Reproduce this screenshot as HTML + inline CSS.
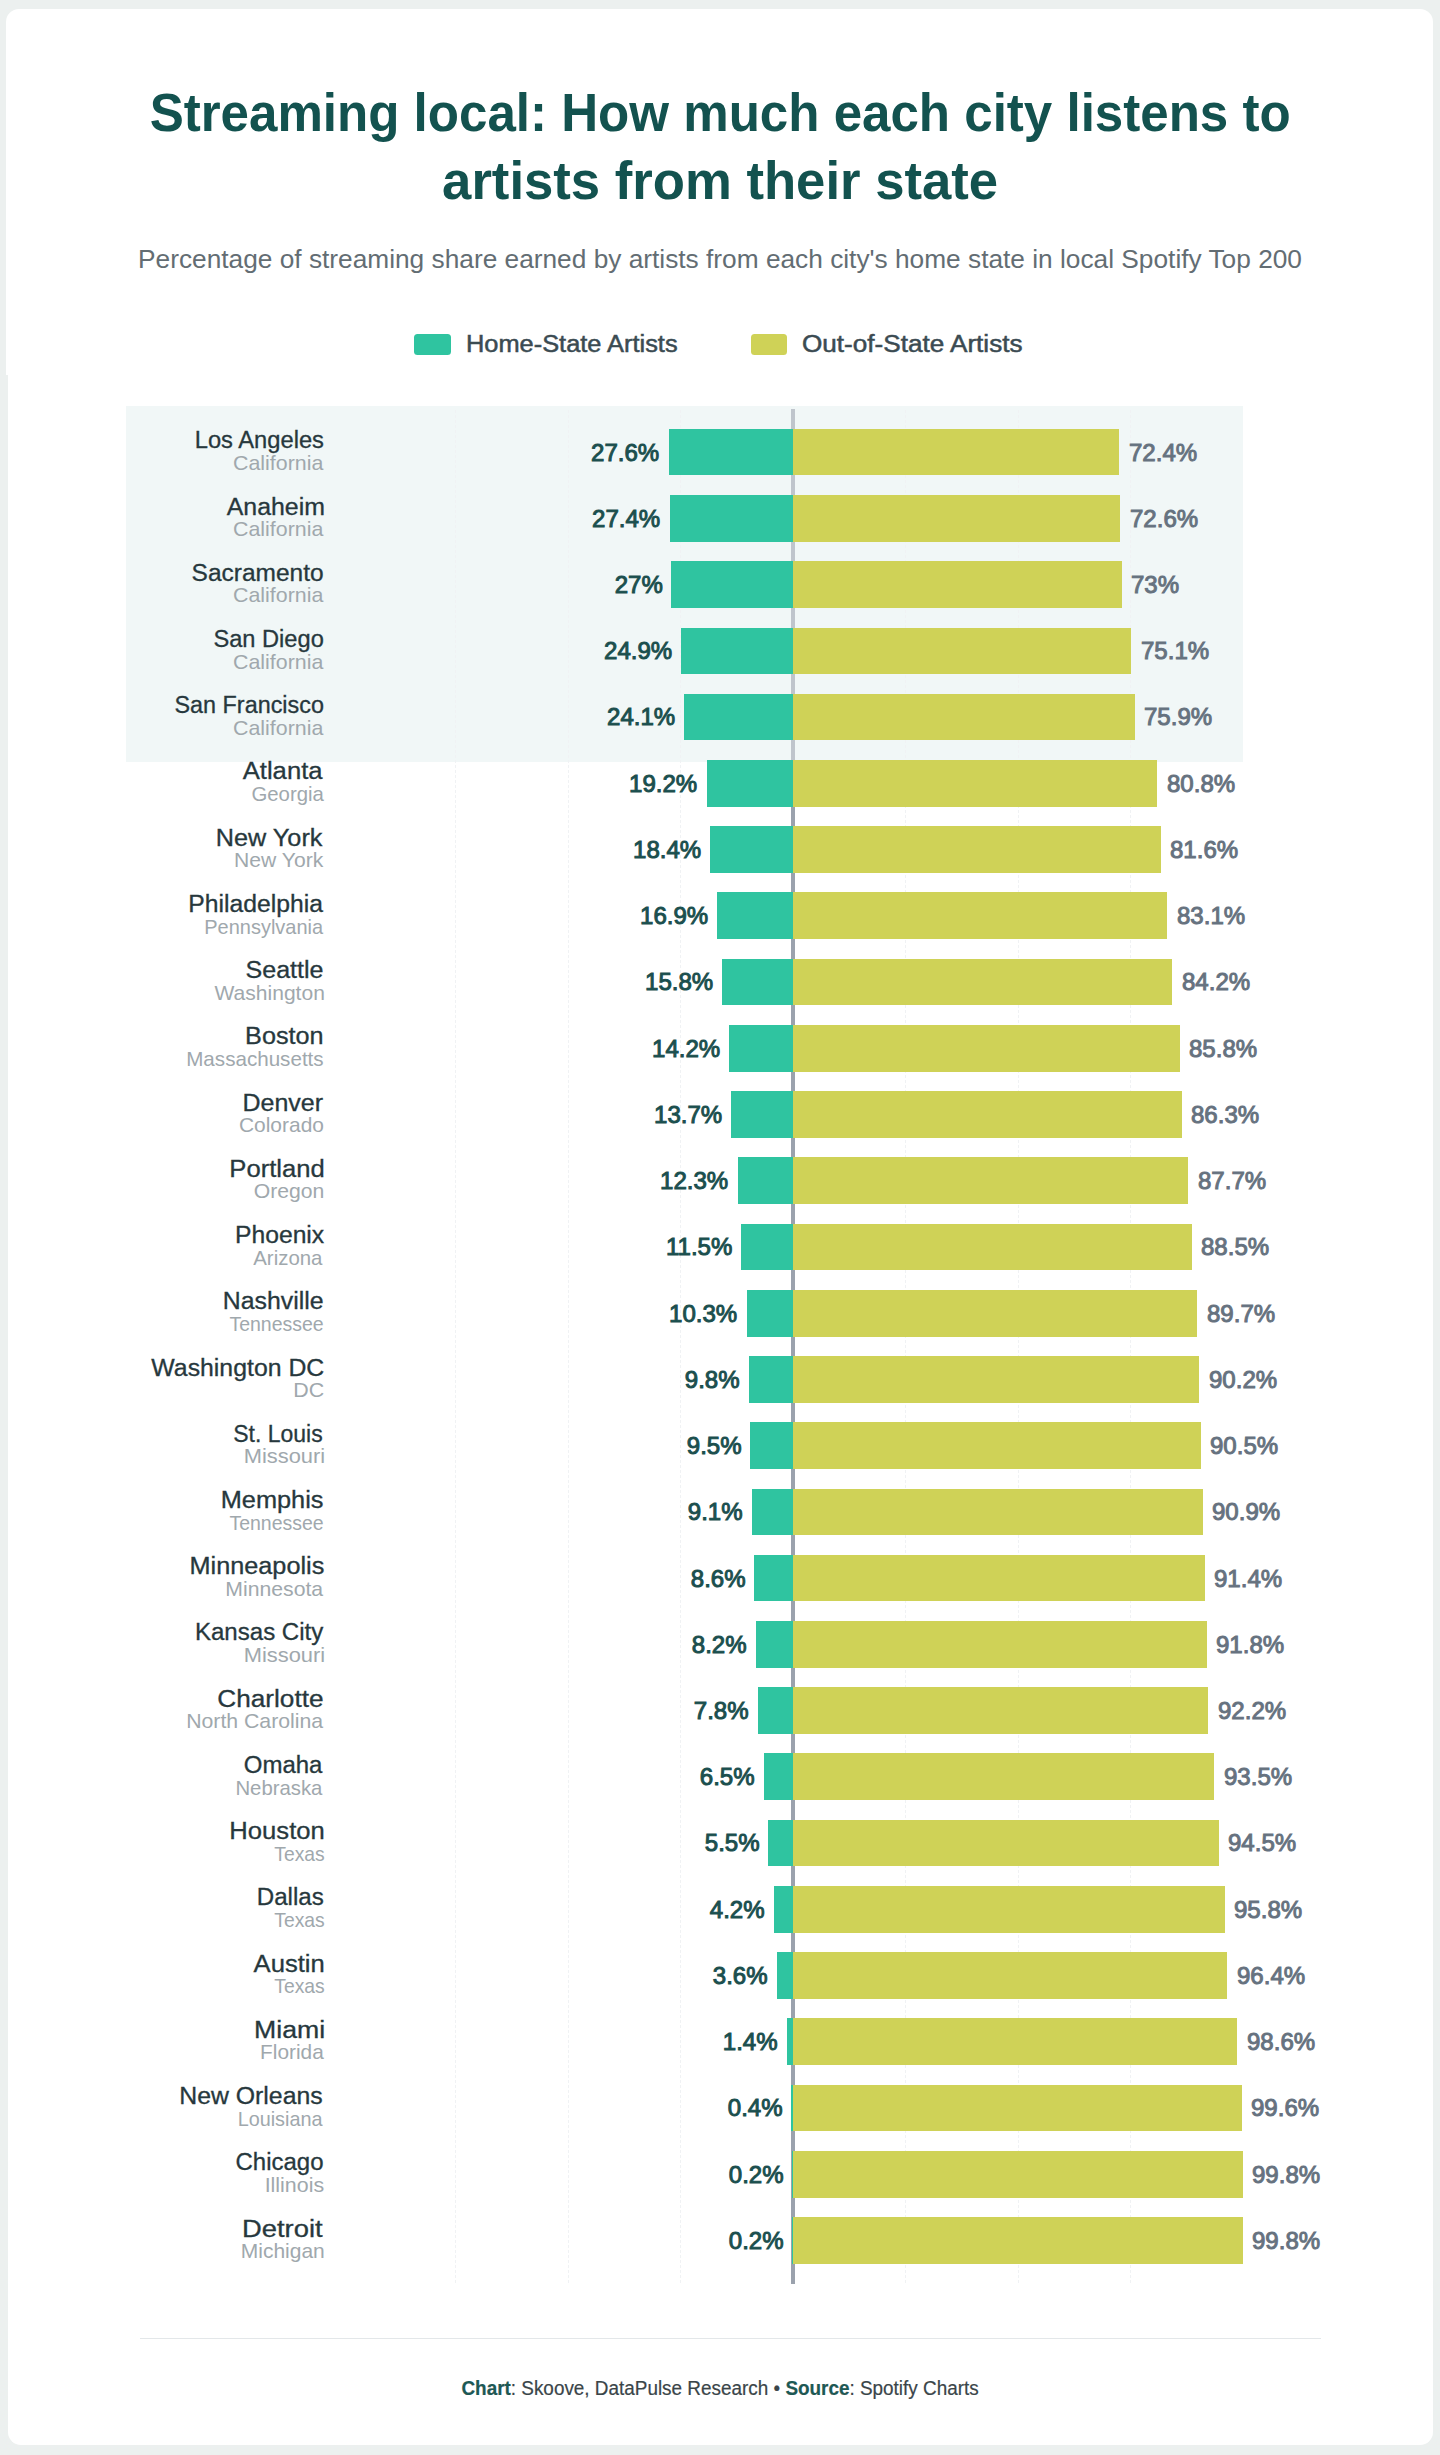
<!DOCTYPE html>
<html lang="en"><head><meta charset="utf-8"><title>Streaming local</title>
<style>
html,body{margin:0;padding:0}
body{width:1440px;height:2455px;background:#ecf0ef;position:relative;overflow:hidden;font-family:"Liberation Sans", sans-serif}
.card{position:absolute;left:5.5px;top:9px;width:1427px;height:365.5px;background:#fff;border-radius:13px 13px 0 0}
.card2{position:absolute;left:7.5px;top:374px;width:1425px;height:2071px;background:#fff;border-radius:0 0 13px 13px}
.band{position:absolute;left:126px;top:406px;width:1117px;height:356px;background:#f1f7f7}
.t{position:absolute;white-space:nowrap;line-height:1;margin:0}
.ttl{font-weight:bold;color:#13524f}
.sub{color:#636d73}
.leg{color:#3b4b52;-webkit-text-stroke:0.5px #3b4b52}
.foot{color:#3a4549;-webkit-text-stroke:0.2px #3a4549}
.foot b{color:#1b5a55}
.city{color:#27383d;-webkit-text-stroke:0.3px #27383d}
.state{color:#a0a8ad}
.va{color:#1b4f4e;-webkit-text-stroke:1px #1b4f4e}
.vb{color:#66727f;-webkit-text-stroke:1px #66727f}
.sw{position:absolute;top:333.5px;width:36.5px;height:21.5px;border-radius:3.5px}
.g{position:absolute;top:410px;height:1873px;width:0;border-left:1px dashed #f0f2f4}
.axis{position:absolute;left:791.4px;top:762px;width:3.2px;height:1521.5px;background:#9ba2ad}
.axis2{position:absolute;left:791.4px;top:409px;width:3.2px;height:353px;background:#bfc5cc}
.ba,.bb{position:absolute;height:46.7px}
.ba{background:#2fc4a0}
.bb{background:#cfd257}
.rule{position:absolute;left:140px;top:2338px;width:1181px;height:1px;background:#e3e7e9}
</style></head>
<body>
<div class="card"></div>
<div class="card2"></div>
<div class="band"></div>
<div class="g" style="left:455.0px"></div>
<div class="g" style="left:567.5px"></div>
<div class="g" style="left:680.0px"></div>
<div class="g" style="left:905.0px"></div>
<div class="g" style="left:1017.5px"></div>
<div class="g" style="left:1130.0px"></div>
<div class="axis"></div>
<div class="axis2"></div>
<div class="sw" style="left:414.3px;background:#2fc4a0"></div>
<div class="sw" style="left:750.5px;background:#cfd257"></div>
<div class="ba" style="left:668.66px;top:428.80px;width:124.34px"></div><div class="bb" style="left:793.00px;top:428.80px;width:326.16px"></div>
<div class="ba" style="left:669.56px;top:495.03px;width:123.44px"></div><div class="bb" style="left:793.00px;top:495.03px;width:327.06px"></div>
<div class="ba" style="left:671.37px;top:561.27px;width:121.63px"></div><div class="bb" style="left:793.00px;top:561.27px;width:328.87px"></div>
<div class="ba" style="left:680.83px;top:627.50px;width:112.17px"></div><div class="bb" style="left:793.00px;top:627.50px;width:338.33px"></div>
<div class="ba" style="left:684.43px;top:693.73px;width:108.57px"></div><div class="bb" style="left:793.00px;top:693.73px;width:341.93px"></div>
<div class="ba" style="left:706.50px;top:759.97px;width:86.50px"></div><div class="bb" style="left:793.00px;top:759.97px;width:364.00px"></div>
<div class="ba" style="left:710.11px;top:826.20px;width:82.89px"></div><div class="bb" style="left:793.00px;top:826.20px;width:367.61px"></div>
<div class="ba" style="left:716.87px;top:892.43px;width:76.13px"></div><div class="bb" style="left:793.00px;top:892.43px;width:374.37px"></div>
<div class="ba" style="left:721.82px;top:958.66px;width:71.18px"></div><div class="bb" style="left:793.00px;top:958.66px;width:379.32px"></div>
<div class="ba" style="left:729.03px;top:1024.90px;width:63.97px"></div><div class="bb" style="left:793.00px;top:1024.90px;width:386.53px"></div>
<div class="ba" style="left:731.28px;top:1091.13px;width:61.72px"></div><div class="bb" style="left:793.00px;top:1091.13px;width:388.78px"></div>
<div class="ba" style="left:737.59px;top:1157.36px;width:55.41px"></div><div class="bb" style="left:793.00px;top:1157.36px;width:395.09px"></div>
<div class="ba" style="left:741.19px;top:1223.60px;width:51.81px"></div><div class="bb" style="left:793.00px;top:1223.60px;width:398.69px"></div>
<div class="ba" style="left:746.60px;top:1289.83px;width:46.40px"></div><div class="bb" style="left:793.00px;top:1289.83px;width:404.10px"></div>
<div class="ba" style="left:748.85px;top:1356.06px;width:44.15px"></div><div class="bb" style="left:793.00px;top:1356.06px;width:406.35px"></div>
<div class="ba" style="left:750.20px;top:1422.30px;width:42.80px"></div><div class="bb" style="left:793.00px;top:1422.30px;width:407.70px"></div>
<div class="ba" style="left:752.00px;top:1488.53px;width:41.00px"></div><div class="bb" style="left:793.00px;top:1488.53px;width:409.50px"></div>
<div class="ba" style="left:754.26px;top:1554.76px;width:38.74px"></div><div class="bb" style="left:793.00px;top:1554.76px;width:411.76px"></div>
<div class="ba" style="left:756.06px;top:1620.99px;width:36.94px"></div><div class="bb" style="left:793.00px;top:1620.99px;width:413.56px"></div>
<div class="ba" style="left:757.86px;top:1687.23px;width:35.14px"></div><div class="bb" style="left:793.00px;top:1687.23px;width:415.36px"></div>
<div class="ba" style="left:763.72px;top:1753.46px;width:29.28px"></div><div class="bb" style="left:793.00px;top:1753.46px;width:421.22px"></div>
<div class="ba" style="left:768.22px;top:1819.69px;width:24.78px"></div><div class="bb" style="left:793.00px;top:1819.69px;width:425.72px"></div>
<div class="ba" style="left:774.08px;top:1885.93px;width:18.92px"></div><div class="bb" style="left:793.00px;top:1885.93px;width:431.58px"></div>
<div class="ba" style="left:776.78px;top:1952.16px;width:16.22px"></div><div class="bb" style="left:793.00px;top:1952.16px;width:434.28px"></div>
<div class="ba" style="left:786.69px;top:2018.39px;width:6.31px"></div><div class="bb" style="left:793.00px;top:2018.39px;width:444.19px"></div>
<div class="ba" style="left:791.20px;top:2084.62px;width:1.80px"></div><div class="bb" style="left:793.00px;top:2084.62px;width:448.70px"></div>
<div class="ba" style="left:792.10px;top:2150.86px;width:0.90px"></div><div class="bb" style="left:793.00px;top:2150.86px;width:449.60px"></div>
<div class="ba" style="left:792.10px;top:2217.09px;width:0.90px"></div><div class="bb" style="left:793.00px;top:2217.09px;width:449.60px"></div>
<div class="t ttl" style="left:116.84px;top:84.8px;font-size:54px;transform:scaleX(0.9459);transform-origin:50% 50%">Streaming local: How much each city listens to</div>
<div class="t ttl" style="left:434.91px;top:152.9px;font-size:54px;transform:scaleX(0.9751);transform-origin:50% 50%">artists from their state</div>
<div class="t sub" style="left:162.01px;top:247.2px;font-size:25.2px;transform:scaleX(1.0430);transform-origin:50% 50%">Percentage of streaming share earned by artists from each city&#39;s home state in local Spotify Top 200</div>
<div class="t leg" style="left:466.3px;top:333.4px;font-size:23px;transform:scaleX(1.1036);transform-origin:0 50%">Home-State Artists</div>
<div class="t leg" style="left:802.0px;top:333.4px;font-size:23px;transform:scaleX(1.1349);transform-origin:0 50%">Out-of-State Artists</div>
<div class="t foot" style="left:451.92px;top:2378.8px;font-size:19.6px;transform:scaleX(0.9648);transform-origin:50% 50%"><b>Chart</b>: Skoove, DataPulse Research &bull; <b>Source</b>: Spotify Charts</div>
<div class="t city" style="left:196.95px;top:429.2px;font-size:23.3px;transform:scaleX(1.0178);transform-origin:100% 50%">Los Angeles</div>
<div class="t state" style="left:237.62px;top:452.9px;font-size:20.2px;transform:scaleX(1.0577);transform-origin:100% 50%">California</div>
<div class="t va" style="left:590.49px;top:440.5px;font-size:24.4px;transform:scaleX(0.9850);transform-origin:100% 50%">27.6%</div>
<div class="t vb" style="left:1128.7px;top:440.5px;font-size:24.4px;transform:scaleX(0.9850);transform-origin:0 50%">72.4%</div>
<div class="t city" style="left:232.95px;top:495.5px;font-size:23.3px;transform:scaleX(1.0681);transform-origin:100% 50%">Anaheim</div>
<div class="t state" style="left:237.62px;top:519.1px;font-size:20.2px;transform:scaleX(1.0577);transform-origin:100% 50%">California</div>
<div class="t va" style="left:591.39px;top:506.7px;font-size:24.4px;transform:scaleX(0.9850);transform-origin:100% 50%">27.4%</div>
<div class="t vb" style="left:1129.6px;top:506.7px;font-size:24.4px;transform:scaleX(0.9850);transform-origin:0 50%">72.6%</div>
<div class="t city" style="left:198.29px;top:561.7px;font-size:23.3px;transform:scaleX(1.0509);transform-origin:100% 50%">Sacramento</div>
<div class="t state" style="left:237.62px;top:585.3px;font-size:20.2px;transform:scaleX(1.0577);transform-origin:100% 50%">California</div>
<div class="t va" style="left:613.54px;top:573.0px;font-size:24.4px;transform:scaleX(0.9850);transform-origin:100% 50%">27%</div>
<div class="t vb" style="left:1131.4px;top:573.0px;font-size:24.4px;transform:scaleX(0.9850);transform-origin:0 50%">73%</div>
<div class="t city" style="left:215.10px;top:627.9px;font-size:23.3px;transform:scaleX(1.0149);transform-origin:100% 50%">San Diego</div>
<div class="t state" style="left:237.62px;top:651.5px;font-size:20.2px;transform:scaleX(1.0577);transform-origin:100% 50%">California</div>
<div class="t va" style="left:602.65px;top:639.2px;font-size:24.4px;transform:scaleX(0.9850);transform-origin:100% 50%">24.9%</div>
<div class="t vb" style="left:1140.8px;top:639.2px;font-size:24.4px;transform:scaleX(0.9850);transform-origin:0 50%">75.1%</div>
<div class="t city" style="left:174.99px;top:694.2px;font-size:23.3px;transform:scaleX(1.0034);transform-origin:100% 50%">San Francisco</div>
<div class="t state" style="left:237.62px;top:717.8px;font-size:20.2px;transform:scaleX(1.0577);transform-origin:100% 50%">California</div>
<div class="t va" style="left:606.26px;top:705.4px;font-size:24.4px;transform:scaleX(0.9850);transform-origin:100% 50%">24.1%</div>
<div class="t vb" style="left:1144.4px;top:705.4px;font-size:24.4px;transform:scaleX(0.9850);transform-origin:0 50%">75.9%</div>
<div class="t city" style="left:250.37px;top:760.4px;font-size:23.3px;transform:scaleX(1.1008);transform-origin:100% 50%">Atlanta</div>
<div class="t state" style="left:252.07px;top:784.0px;font-size:20.2px;transform:scaleX(1.0081);transform-origin:100% 50%">Georgia</div>
<div class="t va" style="left:628.33px;top:771.7px;font-size:24.4px;transform:scaleX(0.9850);transform-origin:100% 50%">19.2%</div>
<div class="t vb" style="left:1166.5px;top:771.7px;font-size:24.4px;transform:scaleX(0.9850);transform-origin:0 50%">80.8%</div>
<div class="t city" style="left:224.48px;top:826.6px;font-size:23.3px;transform:scaleX(1.0832);transform-origin:100% 50%">New York</div>
<div class="t state" style="left:237.60px;top:850.2px;font-size:20.2px;transform:scaleX(1.0462);transform-origin:100% 50%">New York</div>
<div class="t va" style="left:631.94px;top:837.9px;font-size:24.4px;transform:scaleX(0.9850);transform-origin:100% 50%">18.4%</div>
<div class="t vb" style="left:1170.1px;top:837.9px;font-size:24.4px;transform:scaleX(0.9850);transform-origin:0 50%">81.6%</div>
<div class="t city" style="left:195.95px;top:892.9px;font-size:23.3px;transform:scaleX(1.0603);transform-origin:100% 50%">Philadelphia</div>
<div class="t state" style="left:202.81px;top:916.5px;font-size:20.2px;transform:scaleX(0.9893);transform-origin:100% 50%">Pennsylvania</div>
<div class="t va" style="left:638.69px;top:904.1px;font-size:24.4px;transform:scaleX(0.9850);transform-origin:100% 50%">16.9%</div>
<div class="t vb" style="left:1176.9px;top:904.1px;font-size:24.4px;transform:scaleX(0.9850);transform-origin:0 50%">83.1%</div>
<div class="t city" style="left:251.37px;top:959.1px;font-size:23.3px;transform:scaleX(1.0756);transform-origin:100% 50%">Seattle</div>
<div class="t state" style="left:219.04px;top:982.7px;font-size:20.2px;transform:scaleX(1.0430);transform-origin:100% 50%">Washington</div>
<div class="t va" style="left:643.65px;top:970.4px;font-size:24.4px;transform:scaleX(0.9850);transform-origin:100% 50%">15.8%</div>
<div class="t vb" style="left:1181.8px;top:970.4px;font-size:24.4px;transform:scaleX(0.9850);transform-origin:0 50%">84.2%</div>
<div class="t city" style="left:251.37px;top:1025.3px;font-size:23.3px;transform:scaleX(1.0817);transform-origin:100% 50%">Boston</div>
<div class="t state" style="left:189.26px;top:1048.9px;font-size:20.2px;transform:scaleX(1.0208);transform-origin:100% 50%">Massachusetts</div>
<div class="t va" style="left:650.86px;top:1036.6px;font-size:24.4px;transform:scaleX(0.9850);transform-origin:100% 50%">14.2%</div>
<div class="t vb" style="left:1189.0px;top:1036.6px;font-size:24.4px;transform:scaleX(0.9850);transform-origin:0 50%">85.8%</div>
<div class="t city" style="left:247.79px;top:1091.6px;font-size:23.3px;transform:scaleX(1.0735);transform-origin:100% 50%">Denver</div>
<div class="t state" style="left:241.96px;top:1115.2px;font-size:20.2px;transform:scaleX(1.0375);transform-origin:100% 50%">Colorado</div>
<div class="t va" style="left:653.11px;top:1102.8px;font-size:24.4px;transform:scaleX(0.9850);transform-origin:100% 50%">13.7%</div>
<div class="t vb" style="left:1191.3px;top:1102.8px;font-size:24.4px;transform:scaleX(0.9850);transform-origin:0 50%">86.3%</div>
<div class="t city" style="left:238.12px;top:1157.8px;font-size:23.3px;transform:scaleX(1.1000);transform-origin:100% 50%">Portland</div>
<div class="t state" style="left:256.56px;top:1181.4px;font-size:20.2px;transform:scaleX(1.0486);transform-origin:100% 50%">Oregon</div>
<div class="t va" style="left:659.42px;top:1169.1px;font-size:24.4px;transform:scaleX(0.9850);transform-origin:100% 50%">12.3%</div>
<div class="t vb" style="left:1197.6px;top:1169.1px;font-size:24.4px;transform:scaleX(0.9850);transform-origin:0 50%">87.7%</div>
<div class="t city" style="left:239.70px;top:1224.0px;font-size:23.3px;transform:scaleX(1.0597);transform-origin:100% 50%">Phoenix</div>
<div class="t state" style="left:254.45px;top:1247.6px;font-size:20.2px;transform:scaleX(1.0113);transform-origin:100% 50%">Arizona</div>
<div class="t va" style="left:664.83px;top:1235.3px;font-size:24.4px;transform:scaleX(0.9850);transform-origin:100% 50%">11.5%</div>
<div class="t vb" style="left:1201.2px;top:1235.3px;font-size:24.4px;transform:scaleX(0.9850);transform-origin:0 50%">88.5%</div>
<div class="t city" style="left:229.37px;top:1290.3px;font-size:23.3px;transform:scaleX(1.0666);transform-origin:100% 50%">Nashville</div>
<div class="t state" style="left:226.24px;top:1313.9px;font-size:20.2px;transform:scaleX(0.9647);transform-origin:100% 50%">Tennessee</div>
<div class="t va" style="left:668.43px;top:1301.5px;font-size:24.4px;transform:scaleX(0.9850);transform-origin:100% 50%">10.3%</div>
<div class="t vb" style="left:1206.6px;top:1301.5px;font-size:24.4px;transform:scaleX(0.9850);transform-origin:0 50%">89.7%</div>
<div class="t city" style="left:161.60px;top:1356.5px;font-size:23.3px;transform:scaleX(1.0659);transform-origin:100% 50%">Washington DC</div>
<div class="t state" style="left:294.73px;top:1380.1px;font-size:20.2px;transform:scaleX(1.0591);transform-origin:100% 50%">DC</div>
<div class="t va" style="left:684.26px;top:1367.8px;font-size:24.4px;transform:scaleX(0.9850);transform-origin:100% 50%">9.8%</div>
<div class="t vb" style="left:1208.9px;top:1367.8px;font-size:24.4px;transform:scaleX(0.9850);transform-origin:0 50%">90.2%</div>
<div class="t city" style="left:232.24px;top:1422.7px;font-size:23.3px;transform:scaleX(0.9863);transform-origin:100% 50%">St. Louis</div>
<div class="t state" style="left:249.74px;top:1446.3px;font-size:20.2px;transform:scaleX(1.0841);transform-origin:100% 50%">Missouri</div>
<div class="t va" style="left:685.61px;top:1434.0px;font-size:24.4px;transform:scaleX(0.9850);transform-origin:100% 50%">9.5%</div>
<div class="t vb" style="left:1210.2px;top:1434.0px;font-size:24.4px;transform:scaleX(0.9850);transform-origin:0 50%">90.5%</div>
<div class="t city" style="left:229.38px;top:1489.0px;font-size:23.3px;transform:scaleX(1.0881);transform-origin:100% 50%">Memphis</div>
<div class="t state" style="left:226.24px;top:1512.6px;font-size:20.2px;transform:scaleX(0.9647);transform-origin:100% 50%">Tennessee</div>
<div class="t va" style="left:687.41px;top:1500.2px;font-size:24.4px;transform:scaleX(0.9850);transform-origin:100% 50%">9.1%</div>
<div class="t vb" style="left:1212.0px;top:1500.2px;font-size:24.4px;transform:scaleX(0.9850);transform-origin:0 50%">90.9%</div>
<div class="t city" style="left:199.57px;top:1555.2px;font-size:23.3px;transform:scaleX(1.0844);transform-origin:100% 50%">Minneapolis</div>
<div class="t state" style="left:229.76px;top:1578.8px;font-size:20.2px;transform:scaleX(1.0501);transform-origin:100% 50%">Minnesota</div>
<div class="t va" style="left:689.66px;top:1566.5px;font-size:24.4px;transform:scaleX(0.9850);transform-origin:100% 50%">8.6%</div>
<div class="t vb" style="left:1214.3px;top:1566.5px;font-size:24.4px;transform:scaleX(0.9850);transform-origin:0 50%">91.4%</div>
<div class="t city" style="left:198.59px;top:1621.4px;font-size:23.3px;transform:scaleX(1.0329);transform-origin:100% 50%">Kansas City</div>
<div class="t state" style="left:249.74px;top:1645.0px;font-size:20.2px;transform:scaleX(1.0841);transform-origin:100% 50%">Missouri</div>
<div class="t va" style="left:691.47px;top:1632.7px;font-size:24.4px;transform:scaleX(0.9850);transform-origin:100% 50%">8.2%</div>
<div class="t vb" style="left:1216.1px;top:1632.7px;font-size:24.4px;transform:scaleX(0.9850);transform-origin:0 50%">91.8%</div>
<div class="t city" style="left:229.37px;top:1687.7px;font-size:23.3px;transform:scaleX(1.1236);transform-origin:100% 50%">Charlotte</div>
<div class="t state" style="left:192.74px;top:1711.3px;font-size:20.2px;transform:scaleX(1.0526);transform-origin:100% 50%">North Carolina</div>
<div class="t va" style="left:693.27px;top:1698.9px;font-size:24.4px;transform:scaleX(0.9850);transform-origin:100% 50%">7.8%</div>
<div class="t vb" style="left:1217.9px;top:1698.9px;font-size:24.4px;transform:scaleX(0.9850);transform-origin:0 50%">92.2%</div>
<div class="t city" style="left:246.49px;top:1753.9px;font-size:23.3px;transform:scaleX(1.0289);transform-origin:100% 50%">Omaha</div>
<div class="t state" style="left:236.49px;top:1777.5px;font-size:20.2px;transform:scaleX(1.0070);transform-origin:100% 50%">Nebraska</div>
<div class="t va" style="left:699.12px;top:1765.2px;font-size:24.4px;transform:scaleX(0.9850);transform-origin:100% 50%">6.5%</div>
<div class="t vb" style="left:1223.7px;top:1765.2px;font-size:24.4px;transform:scaleX(0.9850);transform-origin:0 50%">93.5%</div>
<div class="t city" style="left:238.12px;top:1820.1px;font-size:23.3px;transform:scaleX(1.1000);transform-origin:100% 50%">Houston</div>
<div class="t state" style="left:272.15px;top:1843.7px;font-size:20.2px;transform:scaleX(0.9563);transform-origin:100% 50%">Texas</div>
<div class="t va" style="left:703.63px;top:1831.4px;font-size:24.4px;transform:scaleX(0.9850);transform-origin:100% 50%">5.5%</div>
<div class="t vb" style="left:1228.2px;top:1831.4px;font-size:24.4px;transform:scaleX(0.9850);transform-origin:0 50%">94.5%</div>
<div class="t city" style="left:259.15px;top:1886.4px;font-size:23.3px;transform:scaleX(1.0350);transform-origin:100% 50%">Dallas</div>
<div class="t state" style="left:272.15px;top:1910.0px;font-size:20.2px;transform:scaleX(0.9563);transform-origin:100% 50%">Texas</div>
<div class="t va" style="left:709.49px;top:1897.6px;font-size:24.4px;transform:scaleX(0.9850);transform-origin:100% 50%">4.2%</div>
<div class="t vb" style="left:1234.1px;top:1897.6px;font-size:24.4px;transform:scaleX(0.9850);transform-origin:0 50%">95.8%</div>
<div class="t city" style="left:260.15px;top:1952.6px;font-size:23.3px;transform:scaleX(1.0997);transform-origin:100% 50%">Austin</div>
<div class="t state" style="left:272.15px;top:1976.2px;font-size:20.2px;transform:scaleX(0.9563);transform-origin:100% 50%">Texas</div>
<div class="t va" style="left:712.19px;top:1963.9px;font-size:24.4px;transform:scaleX(0.9850);transform-origin:100% 50%">3.6%</div>
<div class="t vb" style="left:1236.8px;top:1963.9px;font-size:24.4px;transform:scaleX(0.9850);transform-origin:0 50%">96.4%</div>
<div class="t city" style="left:262.77px;top:2018.8px;font-size:23.3px;transform:scaleX(1.1446);transform-origin:100% 50%">Miami</div>
<div class="t state" style="left:262.18px;top:2042.4px;font-size:20.2px;transform:scaleX(1.0308);transform-origin:100% 50%">Florida</div>
<div class="t va" style="left:722.10px;top:2030.1px;font-size:24.4px;transform:scaleX(0.9850);transform-origin:100% 50%">1.4%</div>
<div class="t vb" style="left:1246.7px;top:2030.1px;font-size:24.4px;transform:scaleX(0.9850);transform-origin:0 50%">98.6%</div>
<div class="t city" style="left:188.24px;top:2085.1px;font-size:23.3px;transform:scaleX(1.0653);transform-origin:100% 50%">New Orleans</div>
<div class="t state" style="left:236.46px;top:2108.7px;font-size:20.2px;transform:scaleX(0.9812);transform-origin:100% 50%">Louisiana</div>
<div class="t va" style="left:726.60px;top:2096.3px;font-size:24.4px;transform:scaleX(0.9850);transform-origin:100% 50%">0.4%</div>
<div class="t vb" style="left:1251.2px;top:2096.3px;font-size:24.4px;transform:scaleX(0.9850);transform-origin:0 50%">99.6%</div>
<div class="t city" style="left:238.42px;top:2151.3px;font-size:23.3px;transform:scaleX(1.0297);transform-origin:100% 50%">Chicago</div>
<div class="t state" style="left:267.79px;top:2174.9px;font-size:20.2px;transform:scaleX(1.0597);transform-origin:100% 50%">Illinois</div>
<div class="t va" style="left:727.51px;top:2162.6px;font-size:24.4px;transform:scaleX(0.9850);transform-origin:100% 50%">0.2%</div>
<div class="t vb" style="left:1252.1px;top:2162.6px;font-size:24.4px;transform:scaleX(0.9850);transform-origin:0 50%">99.8%</div>
<div class="t city" style="left:254.27px;top:2217.5px;font-size:23.3px;transform:scaleX(1.1749);transform-origin:100% 50%">Detroit</div>
<div class="t state" style="left:244.10px;top:2241.1px;font-size:20.2px;transform:scaleX(1.0401);transform-origin:100% 50%">Michigan</div>
<div class="t va" style="left:727.51px;top:2228.8px;font-size:24.4px;transform:scaleX(0.9850);transform-origin:100% 50%">0.2%</div>
<div class="t vb" style="left:1252.1px;top:2228.8px;font-size:24.4px;transform:scaleX(0.9850);transform-origin:0 50%">99.8%</div>
<div class="rule"></div>
</body></html>
